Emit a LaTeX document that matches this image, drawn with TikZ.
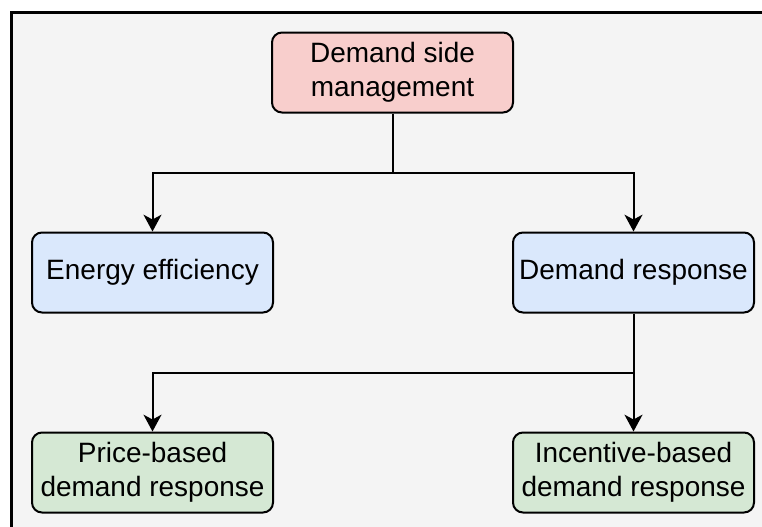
\documentclass[tikz,border=0pt]{standalone}
\usepackage{tikz}
\usetikzlibrary{positioning,arrows.meta}
\usepackage{xcolor}
\usepackage{fontspec}
\setmainfont{Liberation Sans}
\definecolor{bgGray}{HTML}{F4F4F4}
\definecolor{mgmtRed}{HTML}{F8CECC}
\definecolor{levelBlue}{HTML}{DAE8FC}
\definecolor{progGreen}{HTML}{D5E8D4}

\begin{document}
\begin{tikzpicture}[node distance=5cm]
		% 定义方框与箭头
		\tikzstyle{box} = [rectangle, rounded corners=0.25cm, line width=0.05cm, minimum width=6.025cm, minimum height=2cm, text centered, align=center, draw=black, font=\fontsize{19.9}{24}\selectfont]	% 公共方框
		\tikzstyle{mgmt} = [box, fill=mgmtRed]	% 顶层
		\tikzstyle{branch} = [box, fill=levelBlue]	% 第二层
		\tikzstyle{program} = [box, fill=progGreen]	% 第三层
		\tikzstyle{arrow} = [line width=0.05cm, -{Stealth[length=0.42cm, width=0.45cm, inset=0.12cm]}]	% 箭头
		
		% 画布与背景
		\clip (0,0) rectangle (19.05,-13.15);
		\draw [line width=0.06cm, fill=bgGray] (0.2875,-0.3125) rectangle (19.6,-13.6);
		
		\node (dsm) [mgmt] at (9.8125,-1.8125) {Demand side\\management};
		\node (ee) [branch, below of=dsm, xshift=-6cm] {Energy efficiency};
		\node (dr) [branch, below of=dsm, xshift=6.025cm] {Demand response};
		\node (pb) [program, below of=ee] {Price-based\\demand response};
		\node (ib) [program, below of=dr] {Incentive-based\\demand response};
		\path (dsm) ++(0,-2.5) coordinate (split1);
		\path (dr) ++(0,-2.5) coordinate (split2);
		
		% 连接方框
		\draw [line width=0.05cm](dsm) -- (split1);
		\draw [arrow](split1) -| (ee);
		\draw [arrow](split1) -| (dr);
		\draw [line width=0.05cm](dr) -- (split2);
		\draw [arrow](split2) -| (pb);
		\draw [arrow](split2) -- (ib);
	\end{tikzpicture}
\end{document}
